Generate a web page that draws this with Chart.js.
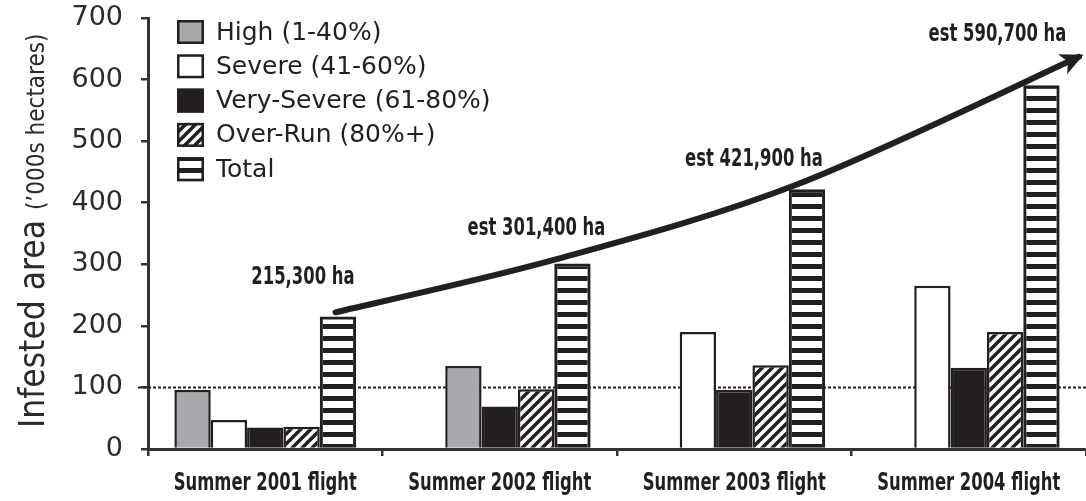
<!DOCTYPE html>
<html>
<head>
<meta charset="utf-8">
<title>Infested area</title>
<script src="https://cdn.jsdelivr.net/npm/chart.js@4.4.0/dist/chart.umd.min.js"></script>
<style>
  html, body { margin: 0; padding: 0; background: #fff; }
  #wrap { width: 1086px; height: 501px; position: relative; }
</style>
</head>
<body>
<div id="wrap"><canvas id="chart"></canvas></div>
<script>
// -----------------------
// Data
// -----------------------
const categories = ['Summer 2001 flight', 'Summer 2002 flight', 'Summer 2003 flight', 'Summer 2004 flight'];
const highValues = [96, null, null, null];
const severeValues = [47, 135, 190, 265];
const verySevereValues = [35, 69, 96, 132];
const overRunValues = [36, 97, 136, 190];
const totalValues = [215.3, 301.4, 421.9, 590.7];
const totalLabels = ['215,300 ha', 'est 301,400 ha', 'est 421,900 ha', 'est 590,700 ha'];
// trend arrow (x in category units, 0 = left edge of first group)
const trendX = [0.80, 1.73, 2.77, 3.97];
const trendY = [222, 307, 430, 637];
const yTicks = [0, 100, 200, 300, 400, 500, 600, 700];
const thresholdValue = 100;

// -----------------------
// Styles
// -----------------------
const INK = '#231f20';
const GREY = '#a7a9ac';
const AXIS = '#333333';
const NARROW = '"DejaVu Sans Condensed", "DejaVu Sans", sans-serif';
const SQUEEZE = 0.76;

function stripePattern() {
  const c = document.createElement('canvas');
  c.width = 8; c.height = 12;
  const g = c.getContext('2d');
  g.fillStyle = INK;
  g.fillRect(0, 0, 8, 5);
  return g.createPattern(c, 'repeat');
}

function hatchPattern() {
  const c = document.createElement('canvas');
  c.width = 10; c.height = 10;
  const g = c.getContext('2d');
  g.fillStyle = '#fff';
  g.fillRect(0, 0, 10, 10);
  g.strokeStyle = INK;
  g.lineWidth = 3.5;
  g.beginPath();
  g.moveTo(-2, 12); g.lineTo(12, -2);
  g.moveTo(-7, 7); g.lineTo(7, -7);
  g.moveTo(3, 17); g.lineTo(17, 3);
  g.stroke();
  return g.createPattern(c, 'repeat');
}

// condensed bold text (squeezed horizontally)
function narrowText(ctx, text, x, y) {
  ctx.save();
  ctx.translate(x, y);
  ctx.scale(SQUEEZE, 1);
  ctx.fillText(text, 0, 0);
  ctx.restore();
}

// -----------------------
// Plugins
// -----------------------
const thresholdLine = {
  id: 'thresholdLine',
  beforeDatasetsDraw(chart) {
    const { ctx, chartArea, scales } = chart;
    const y = scales.y.getPixelForValue(thresholdValue);
    ctx.save();
    ctx.strokeStyle = INK;
    ctx.lineWidth = 2;
    ctx.setLineDash([3, 2]);
    ctx.beginPath();
    ctx.moveTo(chartArea.left - 10, y);
    ctx.lineTo(chartArea.right, y);
    ctx.stroke();
    ctx.restore();
  }
};

const trendDecor = {
  id: 'trendDecor',
  afterDatasetsDraw(chart, args, opts) {
    const { ctx, scales } = chart;
    const x0 = scales.x.getPixelForValue(0);
    const step = scales.x.getPixelForValue(1) - x0;
    const pts = trendX.map((t, i) => ({
      x: x0 + (t - 0.5) * step,
      y: scales.y.getPixelForValue(trendY[i])
    }));

    // smooth trend line
    const k = 0.16;
    ctx.save();
    ctx.strokeStyle = INK;
    ctx.lineWidth = 6;
    ctx.lineCap = 'round';
    ctx.lineJoin = 'round';
    ctx.beginPath();
    ctx.moveTo(pts[0].x, pts[0].y);
    let lastCp = pts[0];
    for (let i = 0; i < pts.length - 1; i++) {
      const p0 = pts[i - 1] || pts[i], p1 = pts[i], p2 = pts[i + 1], p3 = pts[i + 2] || pts[i + 1];
      const c1 = { x: p1.x + (p2.x - p0.x) * k, y: p1.y + (p2.y - p0.y) * k };
      const c2 = { x: p2.x - (p3.x - p1.x) * k, y: p2.y - (p3.y - p1.y) * k };
      ctx.bezierCurveTo(c1.x, c1.y, c2.x, c2.y, p2.x, p2.y);
      lastCp = c2;
    }
    ctx.stroke();

    // arrow head
    const end = pts[pts.length - 1];
    const ang = Math.atan2(end.y - lastCp.y, end.x - lastCp.x);
    ctx.translate(end.x, end.y);
    ctx.rotate(ang);
    ctx.fillStyle = INK;
    ctx.beginPath();
    ctx.moveTo(5, 0);
    ctx.lineTo(-18, -11);
    ctx.lineTo(-12, 0);
    ctx.lineTo(-18, 11);
    ctx.closePath();
    ctx.fill();
    ctx.restore();

    // total labels
    const totalMeta = chart.getDatasetMeta(4);
    ctx.save();
    ctx.fillStyle = INK;
    ctx.font = 'bold 24px ' + NARROW;
    ctx.textAlign = 'center';
    ctx.textBaseline = 'alphabetic';
    totalMeta.data.forEach((bar, i) => {
      narrowText(ctx, totalLabels[i], bar.x + opts.dx[i], bar.y + opts.dy[i]);
    });
    ctx.restore();
  }
};

const sideDecor = {
  id: 'sideDecor',
  afterDraw(chart) {
    const { ctx, chartArea, scales } = chart;

    // category labels
    ctx.save();
    ctx.fillStyle = INK;
    ctx.font = 'bold 24px ' + NARROW;
    ctx.textAlign = 'center';
    ctx.textBaseline = 'alphabetic';
    categories.forEach((c, i) => narrowText(ctx, c, scales.x.getPixelForValue(i), chartArea.bottom + 41));
    ctx.restore();

    // legend
    const items = chart.data.datasets;
    ctx.save();
    ctx.font = '25px "DejaVu Sans", sans-serif';
    ctx.textBaseline = 'middle';
    items.forEach((d, i) => {
      const x = chartArea.left + 29;
      const y = chartArea.top + 2 + i * 34.3;
      ctx.fillStyle = d.legendColor || d.backgroundColor;
      ctx.fillRect(x, y, 27, 24);
      ctx.strokeStyle = INK;
      ctx.lineWidth = 2.5;
      ctx.strokeRect(x + 1.25, y + 1.25, 24.5, 21.5);
      ctx.fillStyle = INK;
      ctx.fillText(d.label, x + 39, y + 13);
    });
    ctx.restore();

    // y title
    ctx.save();
    ctx.translate(44, 428);
    ctx.rotate(-Math.PI / 2);
    ctx.fillStyle = '#2b2b2b';
    ctx.textBaseline = 'alphabetic';
    ctx.textAlign = 'left';
    ctx.font = '35px ' + NARROW;
    ctx.fillText('Infested area', 0, 0);
    const w = ctx.measureText('Infested area').width;
    ctx.font = '24px ' + NARROW;
    ctx.fillText('(\u2019000s hectares)', w + 10, 0);
    ctx.restore();
  }
};

// -----------------------
// Chart
// -----------------------
function initChart() {
  const stripes = stripePattern();
  const hatch = hatchPattern();
  const barBase = { categoryPercentage: 0.775, barPercentage: 1.0, borderColor: INK, borderWidth: 2.5 };

  new Chart(document.getElementById('chart'), {
    type: 'bar',
    data: {
      labels: categories,
      datasets: [
        { ...barBase, label: 'High (1-40%)', data: highValues, backgroundColor: GREY },
        {
          ...barBase, label: 'Severe (41-60%)', data: severeValues,
          backgroundColor: c => (c.dataIndex === 1 ? GREY : '#ffffff'),
          legendColor: '#ffffff'
        },
        { ...barBase, label: 'Very-Severe (61-80%)', data: verySevereValues, backgroundColor: INK },
        { ...barBase, label: 'Over-Run (80%+)', data: overRunValues, backgroundColor: hatch },
        { ...barBase, label: 'Total', data: totalValues, backgroundColor: stripes, borderWidth: 3 }
      ]
    },
    options: {
      responsive: true,
      maintainAspectRatio: false,
      animation: false,
      layout: { padding: { top: 18, right: 0, left: 0, bottom: 0 } },
      plugins: {
        legend: { display: false },
        tooltip: { enabled: false },
        trendDecor: { dx: [-35, -36, -53, -44], dy: [-32, -28, -23, -44] }
      },
      scales: {
        x: {
          type: 'category',
          offset: true,
          grid: { offset: true, drawOnChartArea: false, tickLength: 7, color: AXIS, lineWidth: 2.5 },
          border: { color: AXIS, width: 3 },
          ticks: { callback: () => '', maxRotation: 0, autoSkip: false },
          afterFit: s => { s.height = 52; s.paddingLeft = 0; s.paddingRight = 0; }
        },
        y: {
          min: 0,
          max: 700,
          afterBuildTicks: s => { s.ticks = yTicks.map(v => ({ value: v })); },
          grid: { drawOnChartArea: false, tickLength: 7, color: AXIS, lineWidth: 2.5 },
          border: { color: AXIS, width: 3 },
          ticks: { font: { family: '"DejaVu Sans", sans-serif', size: 27 }, color: '#2b2b2b', padding: 18 },
          afterFit: s => { s.width = 148; s.paddingTop = 0; s.paddingBottom = 0; }
        }
      }
    },
    plugins: [thresholdLine, trendDecor, sideDecor]
  });
}

document.addEventListener('DOMContentLoaded', initChart);
</script>
</body>
</html>
